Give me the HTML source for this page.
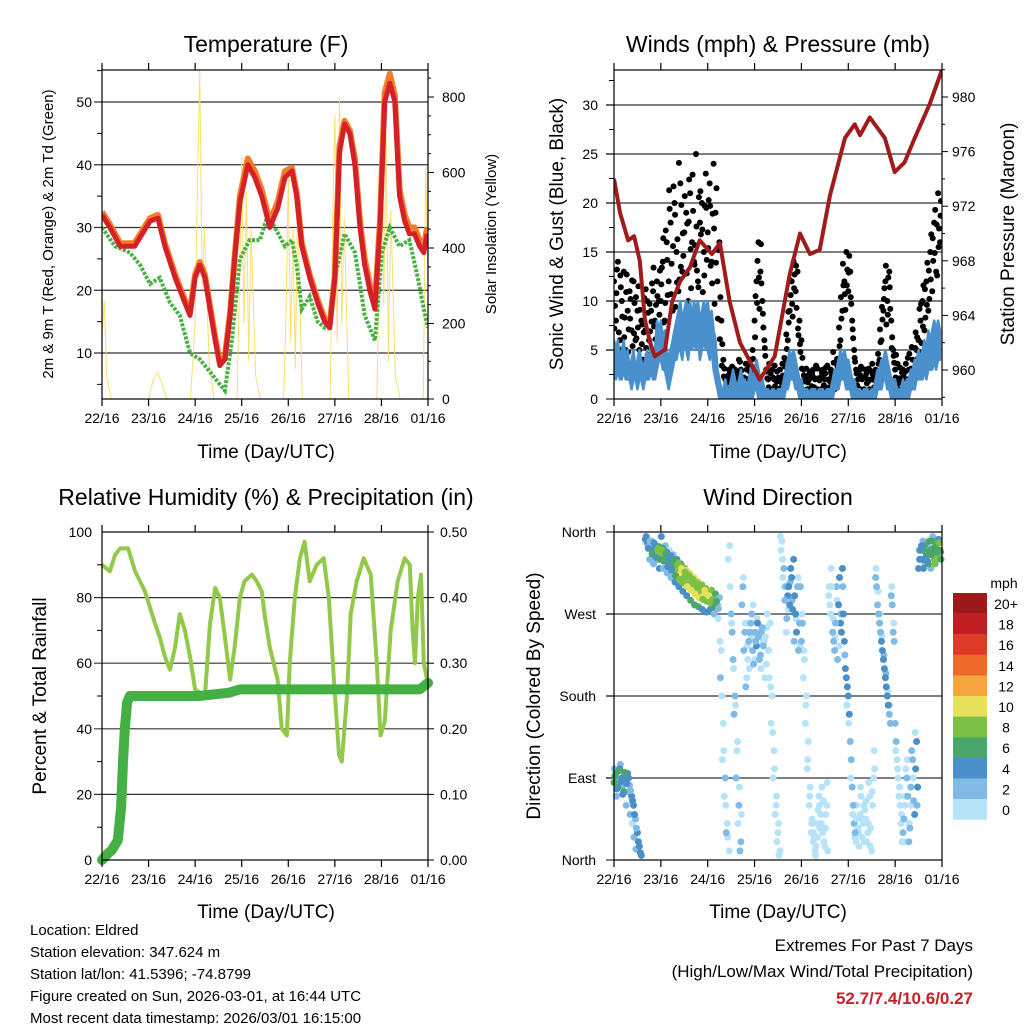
<!DOCTYPE html>
<html><head><meta charset="utf-8"><style>
body{margin:0;background:#fff;}
svg{display:block;font-family:"Liberation Sans",sans-serif;}
</style></head><body>
<svg id="c" width="1024" height="1024" viewBox="0 0 1024 1024"></svg>
<script>
// ---------- DATA ----------
const dayLabels=["22/16","23/16","24/16","25/16","26/16","27/16","28/16","01/16"];
// Temperature (days, F)
const tempT=[0,0.17,0.39,0.7,1.03,1.2,1.35,1.57,1.78,1.89,2.0,2.1,2.21,2.32,2.43,2.53,2.64,2.75,2.85,2.96,3.13,3.28,3.43,3.6,3.77,3.93,4.08,4.18,4.29,4.46,4.63,4.78,4.89,5.0,5.1,5.21,5.32,5.43,5.54,5.64,5.75,5.86,5.97,6.07,6.18,6.29,6.39,6.5,6.6,6.71,6.82,6.91,6.98];
const temp2m=[32,30,27,27,31,31.5,27,22,18,16,22,24,22,17,12,8,9,16,25,34,40,38,35,30,33,38,39,35,27,22,18,15,14,22,42,46.5,45,40,30,24,20,17,30,50,53,50,35,31,29,29,27,26,29];
const temp9m=[32.5,30.5,27.5,27.5,31.5,32,27.5,22.5,18.5,16.5,22.5,24.5,22.5,17.5,12.5,8.5,9.5,16.5,25.5,35,41,39,36,31,34,39,39.5,35.5,27.5,22.5,18.5,15.5,14.5,22.5,43,47,45.5,41,31,25,21,18,31,51.5,54.5,51,36,32,30,30,28,27,30];
const dewT=[0,0.28,0.6,0.82,1.03,1.24,1.46,1.67,1.78,1.89,2.1,2.32,2.53,2.64,2.79,2.96,3.17,3.39,3.56,3.71,3.93,4.08,4.18,4.29,4.46,4.63,4.78,4.89,5.0,5.21,5.43,5.54,5.64,5.86,6.01,6.18,6.39,6.6,6.78,6.91,7.0];
const dewVal=[30,27,26,24,21,22,18,16,13,10,9,7,5,4,12,25,28,28,32,30,27,28,24,17,19,15,14,14,22,29,26,21,16,12,26,30,27,28,22,17,14];
const solT=[0,0.05,0.1,0.2,0.4,1.0,1.1,1.2,1.4,1.9,2.0,2.05,2.1,2.15,2.2,2.3,2.4,2.9,2.95,3.0,3.05,3.1,3.15,3.2,3.3,3.4,3.9,3.95,4.0,4.05,4.1,4.15,4.2,4.3,4.4,4.9,4.95,5.0,5.05,5.1,5.15,5.2,5.3,5.4,5.9,5.95,6.0,6.05,6.1,6.15,6.2,6.3,6.4,6.9,6.95,7.0];
const solVal=[170,260,60,0,0,0,50,70,0,0,200,580,870,300,450,100,0,0,300,640,200,550,100,450,60,0,0,220,590,150,450,80,520,0,0,0,450,750,150,800,200,480,0,0,0,300,780,250,700,100,500,60,0,0,620,300];
// Winds (hourly, mph)
const gust=[12,8,14,6,10,13,5,9,11,7,12,6,9,5,8,4,7,10,6,9,11,8,12,10,
10,14,8,16,12,18,9,20,15,11,22,13,17,19,10,21,16,14,25,12,18,20,15,23,
17,22,14,24,19,12,16,8,4,2,1,3,2,1,3,2,4,3,2,1,3,2,4,5,
8,12,16,13,10,6,3,2,1,3,2,1,2,3,1,2,4,6,9,12,14,11,13,8,
6,3,2,1,2,1,3,2,1,2,1,3,2,1,2,3,2,1,2,4,6,9,12,15,
11,13,8,5,3,2,1,2,1,3,2,1,2,1,3,2,4,6,9,12,10,13,8,5,
3,2,1,2,3,1,2,3,2,4,3,5,6,8,10,7,12,9,15,11,18,13,21,16];
const gustB=[9.5,13.2,6.8,11.4,4.6,8.3,12.7,7.1,10.2,5.4,9.8,6.2,11.5,4.1,7.6,10.3,5.2,8.8,6.9,11.8,7.4,9.6,5.3,13.1,
13.4,7.8,17.2,10.6,19.4,13.8,21.7,9.4,16.3,12.2,19.8,14.6,8.7,17.9,22.4,11.3,19.2,15.7,13.1,20.6,16.8,10.9,19.7,14.2,
20.3,13.6,18.9,9.7,21.5,15.2,10.4,5.6,3.1,1.6,2.4,0.8,3.3,1.9,2.7,0.6,3.8,1.4,2.2,3.6,0.9,2.8,1.7,3.2,
10.5,14.1,9.2,11.8,7.3,4.4,2.1,3.6,0.7,2.2,1.3,2.8,0.9,1.7,2.4,3.3,5.1,7.8,10.6,8.4,12.7,9.3,6.5,4.8,
4.2,1.8,3.1,2.4,0.8,2.6,1.2,3.4,2.1,0.6,2.7,1.4,3.2,0.9,1.8,2.5,3.7,1.1,3.3,5.4,8.2,11.6,9.1,13.2,
14.6,9.7,6.2,3.8,1.4,2.9,3.3,0.8,2.2,1.6,3.1,0.7,2.5,1.9,2.3,3.6,5.8,8.1,11.3,7.6,12.4,9.2,6.3,3.7,
4.5,1.6,3.2,2.7,1.1,3.6,4.2,1.9,5.3,2.6,6.8,4.1,9.2,5.7,11.6,8.3,13.9,10.2,16.8,14.1,19.3,12.6,17.4,20.2];
const gustC=[7.2,10.8,5.1,12.6,8.4,6.3,10.9,4.8,8.2,12.1,6.7,10.4,7.3,9.1,5.6,6.8,11.2,4.5,9.7,7.9,13.4,6.1,10.5,8.6,
11.7,16.4,9.8,14.2,21.3,10.7,15.6,18.8,11.9,24.1,13.5,16.9,20.7,12.8,18.1,15.3,22.9,13.7,17.6,11.4,21.2,17.3,12.6,19.5,
15.4,19.7,11.8,17.4,13.9,8.2,6.1,3.4,2.3,0.9,1.8,2.6,1.2,3.1,0.7,2.4,1.6,2.9,0.8,2.1,1.3,3.5,2.6,4.1,
6.3,9.8,12.4,15.8,8.7,5.2,2.8,1.2,2.6,0.9,3.4,1.8,2.2,1.1,3.6,4.2,6.6,8.9,12.1,9.7,11.3,13.6,7.2,5.6,
3.1,2.4,0.9,1.7,2.8,1.3,2.2,0.7,3.1,1.9,2.3,0.8,2.6,3.4,1.2,2.7,4.8,2.3,4.1,7.3,10.4,13.8,10.7,11.6,
12.9,10.4,7.1,4.2,2.6,1.1,2.4,3.1,0.9,2.6,1.8,2.9,3.6,1.2,2.8,4.6,7.1,9.4,10.2,13.6,8.6,11.4,5.2,4.4,
2.2,3.6,2.1,0.9,2.4,2.8,1.3,4.6,3.1,1.7,5.2,6.3,4.8,9.7,7.4,11.2,9.6,13.1,12.2,16.4,14.9,17.8,15.5,18.7];
const sonicHi=[6,5,6,4,5,6,4,5,3,4,5,3,4,5,4,3,4,5,3,6,4,5,8,7,
8,6,7,5,4,5,6,7,8,9,10,8,9,10,9,10,8,10,9,10,8,9,10,9,
10,8,9,7,6,3,2,1,1,2,1,1,2,3,2,1,2,3,2,2,1,2,3,2,
3,4,3,2,2,1,1,1,0.5,1,1,0.5,1,1,1,2,3,4,5,4,5,4,3,2,
2,1,1,1,0.5,1,1,1,0.5,1,1,1,0.5,1,1,1,2,3,3,4,5,4,5,4,
4,3,2,2,1,1,1,0.5,1,1,1,0.5,1,1,2,3,3,4,4,5,4,3,2,2,
2,1,1,1,2,1,2,2,3,3,4,4,5,4,5,6,5,7,6,7,8,7,8,7];
const sonicLo=[3,2,3,2,2,3,2,2,2,1,2,2,1,2,2,1,2,2,2,3,2,2,3,4,
4,3,3,2,1,2,3,4,4,5,5,4,6,5,4,6,5,6,5,6,4,5,6,5,
5,4,5,3,2,1,0,0,0,0,0,0,0,0,0,0,0,0,0,0,0,0,0,0,
1,1,0,0,0,0,0,0,0,0,0,0,0,0,0,0,1,1,2,2,2,1,1,0,
0,0,0,0,0,0,0,0,0,0,0,0,0,0,0,0,0,1,1,1,2,2,2,1,
1,1,0,0,0,0,0,0,0,0,0,0,0,0,0,1,1,1,2,2,1,1,0,0,
0,0,0,0,0,0,0,0,1,1,1,2,2,2,2,3,2,3,3,3,4,3,4,4];
const presT=[0,0.13,0.30,0.43,0.55,0.66,0.77,0.87,1.09,1.24,1.41,1.62,1.83,1.96,2.09,2.26,2.47,2.69,3.11,3.43,3.75,3.97,4.18,4.39,4.61,4.93,5.14,5.25,5.46,5.78,5.99,6.2,6.42,6.74,7.0];
const presVal=[974,971.5,969.5,969.8,968,963.7,962,961,961.5,965,966.5,967.5,969.5,969,968.5,969.3,965,962,959.3,961,967,970,968.5,968.8,972.8,977,978,977.2,978.5,977,974.5,975.2,977,979.5,982];
// Wind direction (hourly, degrees; null = calm)
const dirA=[85,95,80,100,90,75,88,95,82,70,60,45,30,15,5,null,352,348,345,350,340,346,338,344,
335,342,330,338,326,334,322,330,318,326,314,322,310,318,306,314,302,310,298,306,295,302,290,298,
294,288,296,285,292,280,288,230,150,90,40,10,270,220,180,120,60,20,300,250,200,240,260,230,
250,235,245,225,255,240,215,230,260,180,120,60,30,10,350,320,300,290,280,310,330,270,300,260,
240,200,150,100,60,30,20,10,40,70,50,30,15,60,290,270,250,230,300,280,260,320,240,200,
180,130,80,40,20,35,50,25,60,45,30,70,10,90,310,280,260,240,220,200,180,160,290,250,
150,110,70,40,30,60,90,20,80,110,50,130,320,340,330,345,335,325,340,350,330,345,335,340];
const dirB=[92,78,98,86,72,96,84,90,76,65,50,35,20,8,null,null,355,342,350,336,348,332,342,330,
340,328,336,322,332,318,328,312,324,308,320,304,316,300,312,296,308,292,304,288,300,286,296,284,
290,282,286,278,284,276,200,110,70,30,330,300,250,160,90,40,10,280,230,190,220,250,270,215,
240,260,220,250,235,245,270,200,150,90,50,20,5,340,310,285,265,300,320,275,290,250,230,300,
260,220,180,130,80,45,25,15,55,35,80,20,50,10,280,300,240,260,220,310,250,270,210,190,
160,110,60,30,45,15,70,40,55,20,85,35,60,100,300,270,250,230,210,190,170,150,280,240,
130,90,60,20,45,100,70,35,120,65,100,80,330,345,320,338,328,350,335,342,325,338,348,330];
const dirC=[100,70,88,105,80,92,60,75,50,40,25,12,null,null,null,null,null,null,330,340,325,345,330,320,
355,320,345,315,340,310,335,305,330,300,325,295,320,290,315,285,310,280,305,278,300,275,295,272,
285,275,280,270,275,265,240,180,120,60,25,345,260,210,170,130,80,50,310,260,235,210,245,280,
220,265,250,210,240,200,255,230,190,140,100,70,40,355,330,300,250,275,305,285,240,265,310,235,
270,230,170,110,70,40,30,5,25,60,40,65,35,85,300,320,265,245,285,235,270,300,225,170,
150,90,50,25,60,30,80,45,20,65,40,15,75,120,320,295,270,245,225,205,185,170,300,260,
120,100,80,50,20,70,110,40,60,90,140,60,340,330,350,325,345,335,320,355,340,330,352,338];
const speedLevels=["20+","18","16","14","12","10","8","6","4","2","0"];
const speedColors=["#9b1b1b","#c01e23","#dd3a27","#ee6a2b","#f6a440","#e6e05a","#7cc046","#4aa66a","#4a8fc8","#7fbbe6","#b7e3f8"];
// RH & precip
const rhT=[0,0.17,0.28,0.39,0.56,0.71,0.92,1.14,1.24,1.35,1.46,1.57,1.67,1.78,1.89,2.0,2.21,2.32,2.43,2.53,2.64,2.75,2.85,2.96,3.06,3.22,3.32,3.43,3.49,3.6,3.77,3.86,3.97,4.03,4.14,4.25,4.35,4.46,4.61,4.76,4.87,4.98,5.09,5.15,5.26,5.34,5.47,5.62,5.77,5.9,5.98,6.07,6.2,6.35,6.5,6.61,6.67,6.72,6.78,6.85,6.91,6.98];
const rhVal=[90,88,93,95,95,88,82,72,68,62,58,65,75,70,62,52,50,72,83,80,68,55,65,80,85,87,85,82,75,65,55,40,38,60,80,92,97,85,90,92,80,55,32,30,50,75,85,92,87,60,38,42,70,85,92,90,70,60,80,87,60,55];
const prT=[0,0.13,0.21,0.34,0.41,0.45,0.49,0.54,0.6,2.09,2.73,2.96,6.82,7.0];
const prVal=[0,0.01,0.015,0.03,0.08,0.15,0.2,0.24,0.25,0.25,0.255,0.26,0.26,0.27];

// ---------- RENDER ----------
const NS="http://www.w3.org/2000/svg";
const svg=document.getElementById('c');
function mk(tag,attrs,parent){const e=document.createElementNS(NS,tag);for(const k in attrs)e.setAttribute(k,attrs[k]);(parent||svg).appendChild(e);return e;}
function txt(x,y,s,size,anchor,parent,extra){const e=mk('text',Object.assign({x:x,y:y,'font-size':size,'text-anchor':anchor||'middle',fill:'#000'},extra||{}),parent);e.textContent=s;return e;}
function lin(d0,d1,r0,r1){return v=>r0+(v-d0)*(r1-r0)/(d1-d0);}
function path(xs,ys){let d="";let pen=false;for(let i=0;i<xs.length;i++){if(ys[i]==null||isNaN(ys[i])){pen=false;continue;}d+=(pen?"L":"M")+xs[i].toFixed(1)+" "+ys[i].toFixed(1);pen=true;}return d;}

function frame(g,x0,x1,y0,y1){
  const sx=lin(0,7,x0,x1);
  for(let i=0;i<=7;i++){const x=sx(i);
    mk('line',{x1:x,x2:x,y1:y1,y2:y1+7,stroke:'#000','stroke-width':1.2},g);
    mk('line',{x1:x,x2:x,y1:y0,y2:y0-7,stroke:'#000','stroke-width':1.2},g);
    const t=txt(x,y1+24,dayLabels[i],14,'middle',g);
    
    }
  mk('rect',{x:x0,y:y0,width:x1-x0,height:y1-y0,fill:'none',stroke:'#000','stroke-width':1.2},g);
  return sx;
}
function grid(g,x0,x1,y){mk('line',{x1:x0-8,x2:x1,y1:y,y2:y,stroke:'#333','stroke-width':1.2},g);}

// ---- Panel 1: Temperature ----
(function(){
  const g=mk('g',{});
  const x0=102,x1=428,y0=70,y1=399;
  const sy=lin(10,50,353,102), sr=lin(0,800,399,97);
  [10,20,30,40,50].forEach(v=>{grid(g,x0,x1,sy(v));txt(x0-10,sy(v)+5,String(v),14,'end',g);});
  for(let v=5;v<=55;v+=5){if(v%10)mk('line',{x1:x0-5,x2:x0,y1:sy(v),y2:sy(v),stroke:'#000'},g);}
  [0,200,400,600,800].forEach(v=>{mk('line',{x1:x1,x2:x1+6,y1:sr(v),y2:sr(v),stroke:'#000'},g);txt(x1+14,sr(v)+5,String(v),14,'start',g);});
  for(let v=50;v<=850;v+=50){if(v%200)mk('line',{x1:x1,x2:x1+3,y1:sr(v),y2:sr(v),stroke:'#000'},g);}
  const sx=lin(0,7,x0,x1);
  const cl=mk('clipPath',{id:'cp1'},g);mk('rect',{x:x0,y:y0,width:x1-x0,height:y1-y0},cl);
  const pg=mk('g',{'clip-path':'url(#cp1)'},g);
  const s=mk('path',{d:path(solT.map(sx),solVal.map(sr)),fill:'none',stroke:'#f9dc5c','stroke-width':1,'stroke-opacity':0.9},pg);
  
  const d=mk('path',{d:path(dewT.map(sx),dewVal.map(sy)),fill:'none',stroke:'#49b043','stroke-width':4,'stroke-dasharray':'3 1.5'},pg);
  
  const o=mk('path',{d:path(tempT.map(sx),temp9m.map(sy)),fill:'none',stroke:'#f47b2a','stroke-width':6,'stroke-linejoin':'round'},pg);
  
  const r=mk('path',{d:path(tempT.map(sx),temp2m.map(sy)),fill:'none',stroke:'#d42027','stroke-width':5,'stroke-linejoin':'round'},pg);
  
  frame(g,x0,x1,y0,y1);
  txt(266,52,'Temperature (F)',23,'middle',g);
  txt(266,458,'Time (Day/UTC)',19,'middle',g);
  txt(0,0,'2m & 9m T (Red, Orange) & 2m Td (Green)',15,'middle',g,{transform:'translate(53,234) rotate(-90)'});
  txt(0,0,'Solar Insolation (Yellow)',15,'middle',g,{transform:'translate(496,234) rotate(-90)'});
})();

// ---- Panel 2: Winds ----
(function(){
  const g=mk('g',{});
  const x0=614,x1=942,y0=70,y1=399;
  const sy=lin(0,30,399,105), sp=lin(960,980,370,97);
  [5,10,15,20,25,30].forEach(v=>grid(g,x0,x1,sy(v)));
  [0,5,10,15,20,25,30].forEach(v=>{mk('line',{x1:x0-8,x2:x0,y1:sy(v),y2:sy(v),stroke:'#000'},g);txt(x0-16,sy(v)+5,String(v),14,'end',g);});
  for(let v=2.5;v<=32.5;v+=5)mk('line',{x1:x0-5,x2:x0,y1:sy(v),y2:sy(v),stroke:'#000'},g);
  [960,964,968,972,976,980].forEach(v=>{mk('line',{x1:x1,x2:x1+6,y1:sp(v),y2:sp(v),stroke:'#000'},g);txt(x1+10,sp(v)+5,String(v),14,'start',g);});
  for(let v=958;v<=982;v+=2){if(v%4)mk('line',{x1:x1,x2:x1+3,y1:sp(v),y2:sp(v),stroke:'#000'},g);}
  const sx=lin(0,7,x0,x1);
  const cl=mk('clipPath',{id:'cp2'},g);mk('rect',{x:x0,y:y0,width:x1-x0,height:y1-y0},cl);
  const pg=mk('g',{'clip-path':'url(#cp2)'},g);
  [[gust,0],[gustB,0.5],[gustC,0.25]].forEach(pair=>{pair[0].forEach((v,i)=>{
    const c=mk('circle',{cx:sx((i+pair[1])/24),cy:sy(v),r:3,fill:'#000'},pg);
    
    });});
  const ht=sonicHi.map((v,i)=>i/24);
  const band=path(ht.map(sx),sonicHi.map(sy))+"L"+path(ht.slice().reverse().map(sx),sonicLo.slice().reverse().map(sy)).slice(1)+"Z";
  const b=mk('path',{d:band,fill:'#4a90cc',stroke:'#4a90cc','stroke-width':2.5,'stroke-linejoin':'round'},pg);
  
  const p=mk('path',{d:path(presT.map(sx),presVal.map(sp)),fill:'none',stroke:'#a01c1c','stroke-width':4,'stroke-linejoin':'round'},pg);
  
  frame(g,x0,x1,y0,y1);
  txt(778,52,'Winds (mph) & Pressure (mb)',23,'middle',g);
  txt(778,458,'Time (Day/UTC)',19,'middle',g);
  txt(0,0,'Sonic Wind & Gust (Blue, Black)',19,'middle',g,{transform:'translate(563,234) rotate(-90)'});
  txt(0,0,'Station Pressure (Maroon)',19,'middle',g,{transform:'translate(1014,234) rotate(-90)'});
})();

// ---- Panel 3: RH ----
(function(){
  const g=mk('g',{});
  const x0=102,x1=428,y0=532,y1=860;
  const sy=lin(0,100,860,532), sr=lin(0,0.5,860,532);
  [20,40,60,80].forEach(v=>grid(g,x0,x1,sy(v)));
  [0,20,40,60,80,100].forEach(v=>txt(x0-10,sy(v)+5,String(v),14,'end',g));
  for(let v=10;v<=90;v+=20)mk('line',{x1:x0-5,x2:x0,y1:sy(v),y2:sy(v),stroke:'#000'},g);
  [0,0.1,0.2,0.3,0.4,0.5].forEach(v=>{mk('line',{x1:x1,x2:x1+6,y1:sr(v),y2:sr(v),stroke:'#000'},g);txt(x1+12,sr(v)+5,v.toFixed(2),14,'start',g);});
  const sx=lin(0,7,x0,x1);
  const rh=mk('path',{d:path(rhT.map(sx),rhVal.map(sy)),fill:'none',stroke:'#92c94a','stroke-width':4,'stroke-linejoin':'round'},g);
  
  const pr=mk('path',{d:path(prT.map(sx),prVal.map(sr)),fill:'none',stroke:'#44b043','stroke-width':10,'stroke-linejoin':'round','stroke-linecap':'round'},g);
  
  frame(g,x0,x1,y0,y1);
  txt(266,505,'Relative Humidity (%) & Precipitation (in)',23,'middle',g);
  txt(266,918,'Time (Day/UTC)',19,'middle',g);
  txt(0,0,'Percent & Total Rainfall',19,'middle',g,{transform:'translate(46,696) rotate(-90)'});
})();

// ---- Panel 4: Wind direction ----
(function(){
  const g=mk('g',{});
  const x0=614,x1=942,y0=532,y1=860;
  const sy=lin(0,360,860,532);
  [90,180,270].forEach(v=>grid(g,x0,x1,sy(v)));
  [[0,'North'],[90,'East'],[180,'South'],[270,'West'],[360,'North']].forEach(a=>{mk('line',{x1:x0-8,x2:x0,y1:sy(a[0]),y2:sy(a[0]),stroke:'#000'},g);txt(x0-18,sy(a[0])+5,a[1],14,'end',g);});
  const sx=lin(0,7,x0,x1);
  function col(v){let i=Math.min(10,Math.floor(v/2));return speedColors[10-i];}
  [[dirC,0.25,sonicLo],[dirA,0,sonicHi],[dirB,0.5,sonicHi]].forEach(set=>{set[0].forEach((v,i)=>{if(v==null)return;
    const c=mk('circle',{cx:sx((i+set[1])/24),cy:sy(v),r:3.5,fill:col(set[2][i])},g);
    
    });});
  frame(g,x0,x1,y0,y1);
  txt(1004,588,'mph',14,'middle',g);
  speedLevels.forEach((l,i)=>{const r=mk('rect',{x:953,y:593+i*20.6,width:34,height:20.8,fill:speedColors[i]},g);
    
    txt(1006,609+i*20.6,l,14,'middle',g);});
  txt(778,505,'Wind Direction',23,'middle',g);
  txt(778,918,'Time (Day/UTC)',19,'middle',g);
  txt(0,0,'Direction (Colored By Speed)',19,'middle',g,{transform:'translate(540,696) rotate(-90)'});
})();

// ---- Footer ----
(function(){
  const g=mk('g',{});
  ["Location: Eldred","Station elevation: 347.624 m","Station lat/lon: 41.5396; -74.8799","Figure created on Sun, 2026-03-01, at 16:44 UTC","Most recent data timestamp: 2026/03/01 16:15:00"].forEach((s,i)=>txt(30,935+i*22,s,15,'start',g));
  const e=mk('g',{});
  txt(973,951,'Extremes For Past 7 Days',17,'end',e);
  txt(973,977,'(High/Low/Max Wind/Total Precipitation)',17,'end',e);
  txt(973,1004,'52.7/7.4/10.6/0.27',17,'end',e,{fill:'#c8202a','font-weight':'bold'});
})();
</script>
</body></html>
